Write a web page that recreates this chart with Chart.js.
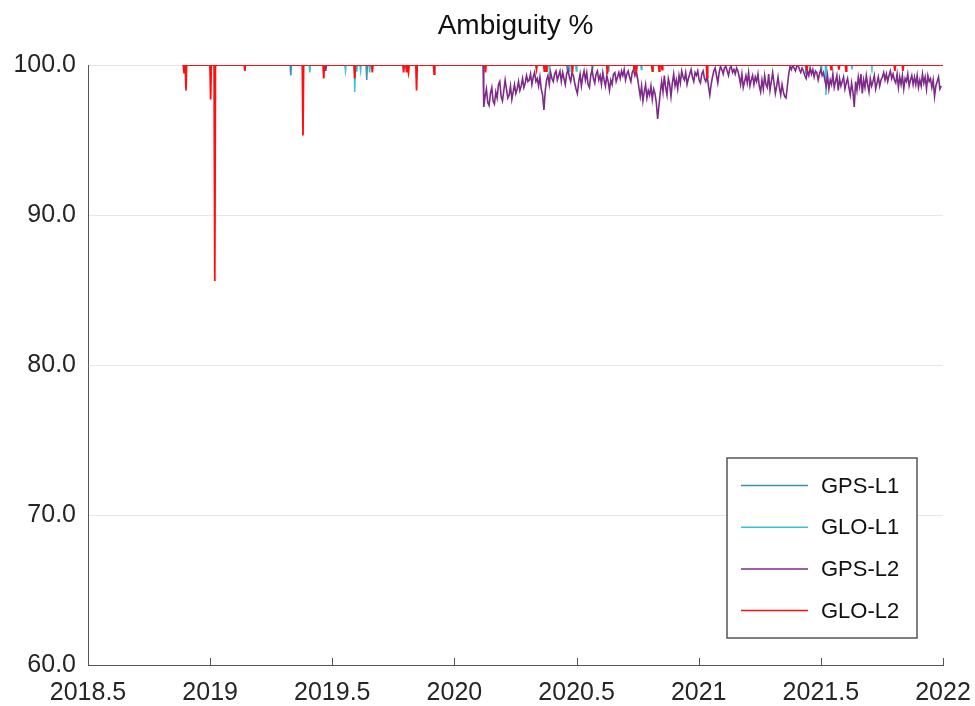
<!DOCTYPE html>
<html>
<head>
<meta charset="utf-8">
<title>Ambiguity %</title>
<script src="https://cdn.jsdelivr.net/npm/chart.js@4.4.1/dist/chart.umd.min.js"></script>
<style>
  html, body { margin: 0; padding: 0; background: #fff; }
  #wrap { width: 975px; height: 706px; position: relative; }
</style>
</head>
<body>
<div id="wrap"><canvas id="ambChart"></canvas></div>
<script>
// Series names and colours (legend order)
const seriesNames = ["GPS-L1", "GLO-L1", "GPS-L2", "GLO-L2"];
const seriesColors = ["#3a93ab", "#38c2dc", "#7e2a8a", "#ff1010"];
const seriesWidths = [1.5, 1.5, 1.6, 1.8];

// Axis ticks
const xTicks = [2018.5, 2019, 2019.5, 2020, 2020.5, 2021, 2021.5, 2022];
const yTicks = [60, 70, 80, 90, 100];

// First and last day of the record (decimal years)
const firstDay = 2018.89;
const lastDay = 2022.0;

// Days that fell below 100 %: [decimal year, percent]
const gpsL1Dips = [
  [2019.330, 99.3], [2019.641, 99.0], [2020.462, 99.7], [2020.565, 99.7],
  [2021.439, 99.4]
];
const gloL1Dips = [
  [2019.408, 99.5], [2019.554, 99.6], [2019.592, 98.2], [2019.600, 99.55],
  [2019.616, 99.6], [2019.653, 99.5], [2020.389, 99.6], [2020.470, 99.6],
  [2020.499, 99.6], [2020.630, 99.6], [2020.765, 99.7], [2021.501, 99.6],
  [2021.521, 98.0], [2021.627, 99.7], [2021.709, 99.8]
];
const gloL2Dips = [
  [2018.893, 99.5], [2018.901, 98.3], [2019.002, 97.7], [2019.019, 85.6],
  [2019.142, 99.6], [2019.380, 95.3], [2019.465, 99.1], [2019.592, 99.1],
  [2019.664, 99.5], [2019.792, 99.5], [2019.804, 99.5], [2019.812, 99.5],
  [2019.845, 98.3], [2019.917, 99.4], [2020.127, 99.5], [2020.336, 99.7],
  [2020.368, 99.6], [2020.376, 99.6], [2020.483, 99.5], [2020.626, 99.4],
  [2020.736, 99.7], [2020.745, 99.6], [2020.810, 99.6], [2020.838, 99.6],
  [2020.850, 99.7], [2021.034, 99.2], [2021.443, 99.6], [2021.542, 99.7],
  [2021.574, 99.7], [2021.603, 99.6], [2021.803, 99.6], [2021.836, 99.6]
];
const gpsL2Dips = [[2019.473, 99.6]];

// GPS-L2 from 2020.12 on: one reading every 2 days
const gpsL2NoisyStart = 2020.12;
const gpsL2NoisyStepDays = 2;
const gpsL2Noisy = [
  97.2, 97.9, 98.4, 97.5, 97.3, 98.1, 98.5, 97.6, 97.4, 98.2, 97.8, 98.7, 98.9, 97.9, 97.6, 98.3, 99.0, 98.4, 97.8, 98.0, 98.6, 97.7, 98.2, 98.7, 98.1,
  98.4, 98.9, 98.3, 98.6, 99.1, 98.5, 98.8, 99.3, 98.9, 99.0, 99.4, 98.7, 99.2, 99.5, 98.9, 99.1,
  98.6, 99.2, 98.4, 98.0, 97.0, 98.3, 99.0, 99.3, 98.7, 99.5, 99.1, 98.9, 99.4, 99.6, 99.0,
  99.3, 99.6, 98.9, 99.5, 99.1, 98.7, 99.4, 99.7, 99.2, 98.9, 99.5, 99.3, 98.8, 98.4, 98.1,
  98.9, 99.4, 98.6, 99.2, 99.6, 99.0, 99.5, 98.7, 98.5, 99.3, 99.7, 99.1, 98.8, 99.4, 99.6, 99.0, 99.3, 98.7, 99.5, 99.0,
  98.6, 99.3, 98.9, 98.3, 99.0, 98.7, 99.4, 99.5, 98.9, 99.2,
  99.5, 99.1, 99.6, 99.3, 99.7, 99.0, 99.4, 99.6, 99.2, 98.9, 99.5, 99.7, 99.3, 99.6, 99.1,
  98.5, 97.9, 98.6, 97.6, 98.2, 98.7, 97.8, 98.3, 98.0, 98.6, 97.7, 98.4, 98.1,
  97.5, 96.4, 97.3, 98.2,
  98.9, 98.2, 99.3, 98.5, 98.0, 99.1, 98.7, 97.9, 98.8, 99.4, 98.6, 99.0, 98.4,
  99.3, 98.8, 99.6, 99.2, 99.0, 99.5, 98.7, 99.1, 99.4, 99.7, 99.2, 98.9, 99.5, 99.3, 99.6, 99.0, 98.8, 99.4, 99.6, 99.1, 98.9, 99.3, 98.6, 98.0, 98.7,
  99.2, 99.6, 99.8, 99.3, 98.8, 99.5, 99.9, 99.7, 99.4, 99.8, 99.9, 99.6, 99.3, 99.8, 99.9, 99.5, 99.7, 99.4, 99.8, 99.6,
  99.2, 98.7, 99.4, 98.5, 98.9, 99.3, 98.8, 99.5, 98.6, 99.0, 99.3, 98.7, 99.2, 98.9, 99.4, 98.6, 98.2,
  99.0, 98.4, 99.3, 98.7, 98.5, 99.4, 98.3, 98.9, 99.5, 98.8, 98.1, 98.6, 99.2, 98.5, 98.0, 98.7, 98.2, 97.9, 97.8, 98.6,
  99.4, 99.9, 99.7, 100.0, 99.8, 99.6, 99.9, 100.0, 99.7, 99.5, 99.8, 99.6, 99.3,
  99.1, 99.6, 99.3, 99.8, 99.4, 99.7, 99.2, 99.6, 99.5, 99.0, 99.4, 99.7, 99.3, 99.5, 99.0,
  98.6, 99.3, 98.4, 99.0, 98.7, 99.4, 98.5, 98.9, 99.3, 98.3, 99.1, 98.6, 98.9, 99.2, 98.4, 98.8, 99.1, 98.5, 98.0, 98.8, 98.2, 97.2,
  98.9, 98.3, 99.2, 98.6, 99.4, 98.1, 99.0, 98.5, 99.3, 98.7, 98.2, 99.1, 98.6, 98.9, 99.3, 98.4, 98.8, 99.2, 98.6, 99.0,
  99.2, 99.5, 99.0, 99.4, 98.9, 99.3, 99.6, 99.1, 99.4, 99.0,
  98.8, 99.4, 98.5, 99.2, 98.7, 99.3, 98.4, 99.1, 98.9, 99.4, 98.6, 99.0, 99.3, 98.7, 99.2,
  98.7, 99.3, 98.5, 99.0, 98.6, 99.4, 98.8, 99.2, 98.4, 99.3, 98.9, 99.1, 98.5, 99.0, 97.9, 98.6, 98.9, 99.2, 98.4, 98.6
];

const oneDay = 1 / 365.25;
const fontFamily = "'Liberation Sans', Arial, sans-serif";

// 100 % everywhere except on the listed days
function dipPoints(dips, from, to) {
  const pts = [{ x: from, y: 100 }];
  dips.forEach(([x, y]) => {
    pts.push({ x: x - oneDay, y: 100 }, { x: x, y: y }, { x: x + oneDay, y: 100 });
  });
  pts.push({ x: to, y: 100 });
  return pts;
}

function gpsL2Points() {
  const pts = dipPoints(gpsL2Dips, firstDay, gpsL2NoisyStart - oneDay);
  gpsL2Noisy.forEach((v, i) => {
    pts.push({ x: gpsL2NoisyStart + i * gpsL2NoisyStepDays * oneDay, y: v });
  });
  return pts;
}

const seriesData = [
  dipPoints(gpsL1Dips, firstDay, lastDay),
  dipPoints(gloL1Dips, firstDay, lastDay),
  gpsL2Points(),
  dipPoints(gloL2Dips, firstDay, lastDay)
];

// red drawn on top, then purple, then the L1 lines
const drawOrder = [4, 3, 2, 1];

// Title, inside x ticks and boxed legend
const extras = {
  id: "extras",
  afterDraw(chart) {
    const ctx = chart.ctx;
    const area = chart.chartArea;
    ctx.save();

    ctx.fillStyle = "#111";
    ctx.font = "28px " + fontFamily;
    ctx.textAlign = "center";
    ctx.textBaseline = "middle";
    ctx.fillText("Ambiguity %", (area.left + area.right) / 2, 26);

    ctx.strokeStyle = "#555";
    ctx.lineWidth = 1;
    xTicks.forEach(v => {
      const px = Math.round(chart.scales.x.getPixelForValue(v)) + 0.5;
      ctx.beginPath();
      ctx.moveTo(px, area.bottom);
      ctx.lineTo(px, area.bottom - 7);
      ctx.stroke();
    });

    const boxW = 190, boxH = 180;
    const bx = area.right - 26 - boxW;
    const by = area.bottom - 27 - boxH;
    ctx.fillStyle = "#fff";
    ctx.fillRect(bx, by, boxW, boxH);
    ctx.strokeStyle = "#555";
    ctx.lineWidth = 1.5;
    ctx.strokeRect(bx, by, boxW, boxH);
    ctx.font = "22px " + fontFamily;
    ctx.textAlign = "left";
    ctx.textBaseline = "middle";
    seriesNames.forEach((name, i) => {
      const ry = by + 27.5 + i * 41.7;
      ctx.strokeStyle = seriesColors[i];
      ctx.lineWidth = 1.5;
      ctx.beginPath();
      ctx.moveTo(bx + 14, ry);
      ctx.lineTo(bx + 81, ry);
      ctx.stroke();
      ctx.fillStyle = "#111";
      ctx.fillText(name, bx + 94, ry + 1);
    });
    ctx.restore();
  }
};

const ctx = document.getElementById("ambChart").getContext("2d");
new Chart(ctx, {
  type: "line",
  data: {
    datasets: seriesNames.map((name, i) => ({
      label: name,
      data: seriesData[i],
      borderColor: seriesColors[i],
      borderWidth: seriesWidths[i],
      pointRadius: 0,
      tension: 0,
      fill: false,
      order: drawOrder[i]
    }))
  },
  options: {
    responsive: true,
    maintainAspectRatio: false,
    animation: false,
    layout: { padding: { top: 65, right: 32, left: 0, bottom: 0 } },
    plugins: {
      legend: { display: false },
      title: { display: false },
      tooltip: { enabled: false }
    },
    scales: {
      x: {
        type: "linear",
        min: 2018.5,
        max: 2022,
        afterFit: s => {
          s.height = 41;
          s.paddingLeft = 0;
          s.paddingRight = 0;
        },
        afterBuildTicks: s => { s.ticks = xTicks.map(v => ({ value: v })); },
        grid: { display: false, drawTicks: false },
        border: { display: true, color: "#555", width: 1 },
        ticks: {
          padding: 13,
          color: "#262626",
          font: { family: fontFamily, size: 25 },
          maxRotation: 0,
          callback: v => String(v)
        }
      },
      y: {
        min: 60,
        max: 100,
        afterFit: s => {
          s.width = 88;
          s.paddingTop = 0;
          s.paddingBottom = 0;
        },
        afterBuildTicks: s => { s.ticks = yTicks.map(v => ({ value: v })); },
        grid: { color: "#e6e6e6", drawTicks: false },
        border: { display: true, color: "#555", width: 1 },
        ticks: {
          padding: 12,
          color: "#262626",
          font: { family: fontFamily, size: 25 },
          callback: v => v.toFixed(1)
        }
      }
    }
  },
  plugins: [extras]
});
</script>
</body>
</html>
